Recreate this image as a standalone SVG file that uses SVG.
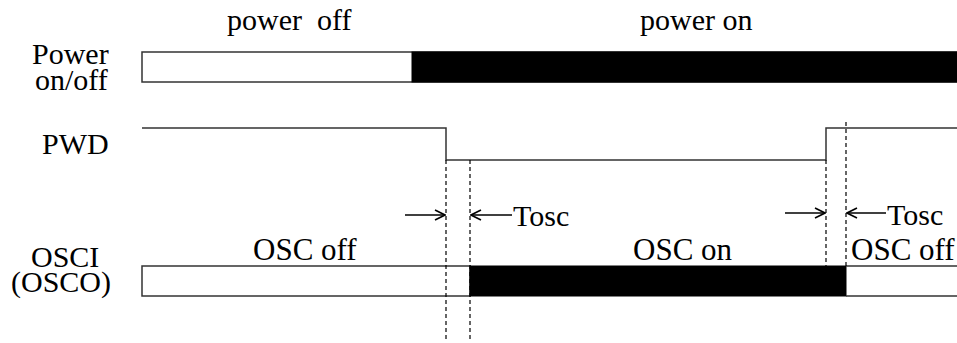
<svg xmlns="http://www.w3.org/2000/svg" width="957" height="343" viewBox="0 0 957 343">
<style>
text{font-family:"Liberation Serif","Times New Roman",serif;fill:#000;font-size:30px}
.sig{fill:none;stroke:#333;stroke-width:1.5}
.bar{fill:#fff;stroke:#333;stroke-width:1.5}
.blk{fill:#000;stroke:#000;stroke-width:1}
.dash{fill:none;stroke:#000;stroke-width:1.2;stroke-dasharray:4 3}
.arr{fill:none;stroke:#000;stroke-width:1.5;marker-end:url(#ah)}
.osc{font-size:31px}
</style>
<defs>
<marker id="ah" viewBox="0 0 12 12" refX="11" refY="6" markerWidth="12" markerHeight="12" markerUnits="userSpaceOnUse" orient="auto">
<path d="M1,1 L11,6 L1,11" fill="none" stroke="#000" stroke-width="1.6"/>
</marker>
</defs>
<g id="labels">
<text x="227" y="30" xml:space="preserve">power  off</text>
<text x="640" y="30">power on</text>
<text x="32" y="64">Power</text>
<text x="35" y="90">on/off</text>
<text x="42" y="154">PWD</text>
<text x="31" y="267">OSCI</text>
<text x="11" y="292">(OSCO)</text>
<text x="253" y="260" class="osc">OSC off</text>
<text x="633" y="260" class="osc">OSC on</text>
<text x="851" y="260" class="osc">OSC off</text>
<text x="513" y="226">Tosc</text>
<text x="887" y="225">Tosc</text>
</g>
<g id="power">
<rect class="bar" x="142" y="52" width="816" height="30"/>
<rect class="blk" x="412" y="52" width="546" height="30"/>
</g>
<g id="pwd">
<path class="sig" d="M142,128 H446 V160 H826 V128 H958"/>
</g>
<g id="osc">
<rect class="bar" x="142" y="266" width="328" height="30"/>
<rect class="blk" x="470" y="266" width="376" height="30"/>
<path class="sig" d="M846,266 H958 M846,296 H958"/>
</g>
<g id="connectors">
<line class="dash" x1="446" y1="160" x2="446" y2="340"/>
<line class="dash" x1="470" y1="160" x2="470" y2="340"/>
<line class="dash" x1="826" y1="160" x2="826" y2="266"/>
<line class="dash" x1="846" y1="122" x2="846" y2="266"/>
<line class="arr" x1="405" y1="215" x2="445" y2="215"/>
<line class="arr" x1="512" y1="215" x2="471" y2="215"/>
<line class="arr" x1="785" y1="213" x2="825" y2="213"/>
<line class="arr" x1="886" y1="213" x2="847" y2="213"/>
</g>
</svg>
